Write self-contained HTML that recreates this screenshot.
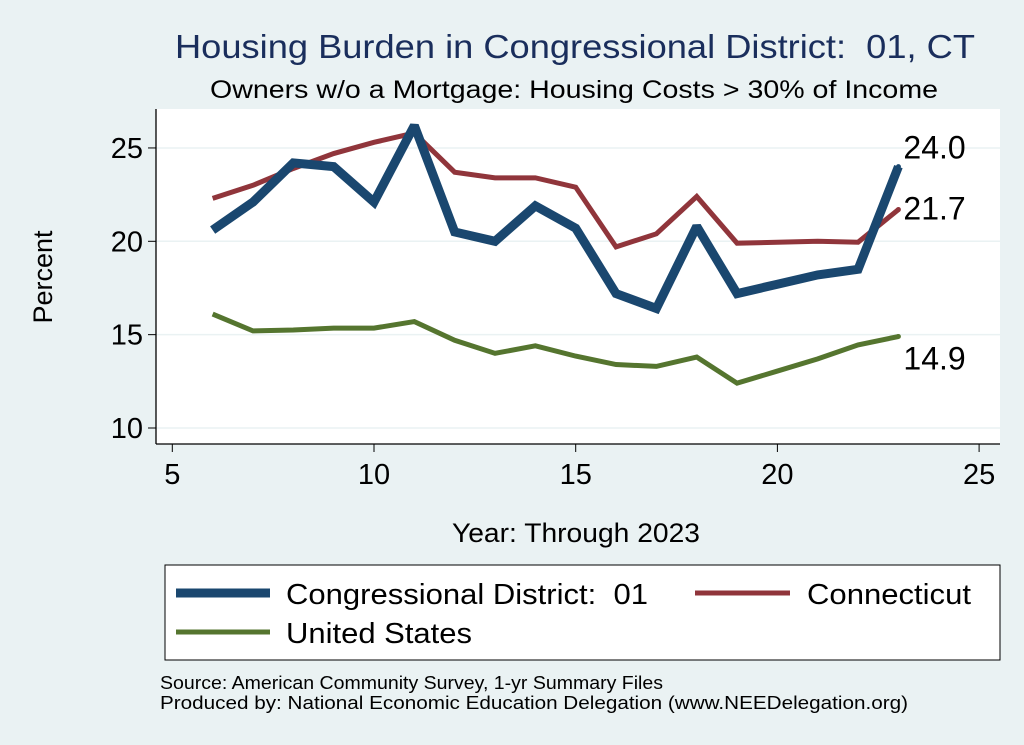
<!DOCTYPE html>
<html><head><meta charset="utf-8"><style>
body{margin:0;background:#eaf2f3;font-family:"Liberation Sans",sans-serif}
svg{display:block}
text{white-space:pre}
</style></head><body>
<svg width="1024" height="745" xmlns="http://www.w3.org/2000/svg" font-family="Liberation Sans, sans-serif" xml:space="preserve">
<rect width="1024" height="745" fill="#eaf2f3"/>
<text x="175" y="58" font-size="33" fill="#1a2e5c" textLength="800" lengthAdjust="spacingAndGlyphs">Housing Burden in Congressional District:  01, CT</text>
<text x="210" y="98" font-size="25" fill="#000" textLength="728" lengthAdjust="spacingAndGlyphs">Owners w/o a Mortgage: Housing Costs &gt; 30% of Income</text>
<rect x="156" y="109" width="844" height="335" fill="#fff"/>
<g id="grid"></g>
<line x1="156" y1="109" x2="156" y2="444" stroke="#000" stroke-width="1.3"/>
<line x1="156" y1="444" x2="1000" y2="444" stroke="#000" stroke-width="1.3"/>
<g id="ticks"></g>
<g id="series"></g>
<text x="52" y="277" text-anchor="middle" font-size="27" transform="rotate(-90 52 277)">Percent</text>
<text x="452" y="542" font-size="27" textLength="248" lengthAdjust="spacingAndGlyphs">Year: Through 2023</text>
<g>
<rect x="165" y="565" width="835" height="95" fill="#fff" stroke="#000" stroke-width="1"/>
<line x1="176" y1="593" x2="270" y2="593" stroke="#1a476f" stroke-width="9"/>
<text x="286" y="604" font-size="29" textLength="362" lengthAdjust="spacingAndGlyphs">Congressional District:  01</text>
<line x1="695" y1="593" x2="790" y2="593" stroke="#90353b" stroke-width="5"/>
<text x="807" y="604" font-size="29" textLength="164" lengthAdjust="spacingAndGlyphs">Connecticut</text>
<line x1="176" y1="632" x2="270" y2="632" stroke="#55752f" stroke-width="5"/>
<text x="286" y="643" font-size="29" textLength="186" lengthAdjust="spacingAndGlyphs">United States</text>
</g>
<text x="160" y="689" font-size="18" textLength="503" lengthAdjust="spacingAndGlyphs">Source: American Community Survey, 1-yr Summary Files</text>
<text x="160" y="709" font-size="18" textLength="748" lengthAdjust="spacingAndGlyphs">Produced by: National Economic Education Delegation (www.NEEDelegation.org)</text>
</svg>
<script>
const years=[6,7,8,9,10,11,12,13,14,15,16,17,18,19,20,21,22,23];
const cdValues=[20.6,22.1,24.2,24.0,22.1,26.2,20.5,20.0,21.9,20.7,17.2,16.4,20.8,17.2,17.7,18.2,18.5,24.0];
const ctValues=[22.3,23.0,23.9,24.7,25.3,25.8,23.7,23.4,23.4,22.9,19.7,20.4,22.4,19.9,19.95,20.0,19.95,21.7];
const usValues=[16.1,15.2,15.25,15.35,15.35,15.7,14.7,14.0,14.4,13.85,13.4,13.3,13.8,12.4,13.05,13.7,14.45,14.9];
const xTicks=[5,10,15,20,25];
const yTicks=[10,15,20,25];
const NS="http://www.w3.org/2000/svg";
function xs(v){return 172.3+(v-5)*40.34;}
function ys(v){return 428-(v-10)*18.67;}
function mk(tag,attrs,parent){const e=document.createElementNS(NS,tag);for(const k in attrs)e.setAttribute(k,attrs[k]);document.getElementById(parent).appendChild(e);return e;}
yTicks.forEach(t=>{
 const g=mk('line',{x1:156,x2:1000,y1:ys(t),y2:ys(t),stroke:'#eaf2f3','stroke-width':1.5},'grid');
 
 
 const tk=mk('line',{x1:148,x2:156,y1:ys(t),y2:ys(t),stroke:'#000'},'ticks');
 
 
 const tx=mk('text',{x:143,y:ys(t)+10,'text-anchor':'end','font-size':29},'ticks');
 tx.textContent=t;
 
 
});
xTicks.forEach(t=>{
 const tk=mk('line',{x1:xs(t),x2:xs(t),y1:444,y2:452,stroke:'#000'},'ticks');
 
 
 const tx=mk('text',{x:xs(t),y:484,'text-anchor':'middle','font-size':29},'ticks');
 tx.textContent=t;
 
 
});
function series(vals,color,w,name,lblDy){
 const pts=years.map((y,i)=>xs(y)+','+ys(vals[i])).join(' ');
 const p=mk('polyline',{points:pts,fill:'none',stroke:color,'stroke-width':w,'stroke-linejoin':'miter','stroke-miterlimit':2},'series');
 
 
 const last=vals[vals.length-1];
 const c=mk('circle',{cx:xs(years[years.length-1]),cy:ys(last),r:2.5,fill:color},'series');
 
 
 const t=mk('text',{x:xs(years[years.length-1])+5,y:ys(last)+lblDy,'font-size':32},'series');
 t.textContent=last.toFixed(1);
 
 
}
series(usValues,'#55752f',5,'line-united-states',33);
series(ctValues,'#90353b',5,'line-connecticut',10);
series(cdValues,'#1a476f',9,'line-congressional-district',-8);
</script>
</body></html>
